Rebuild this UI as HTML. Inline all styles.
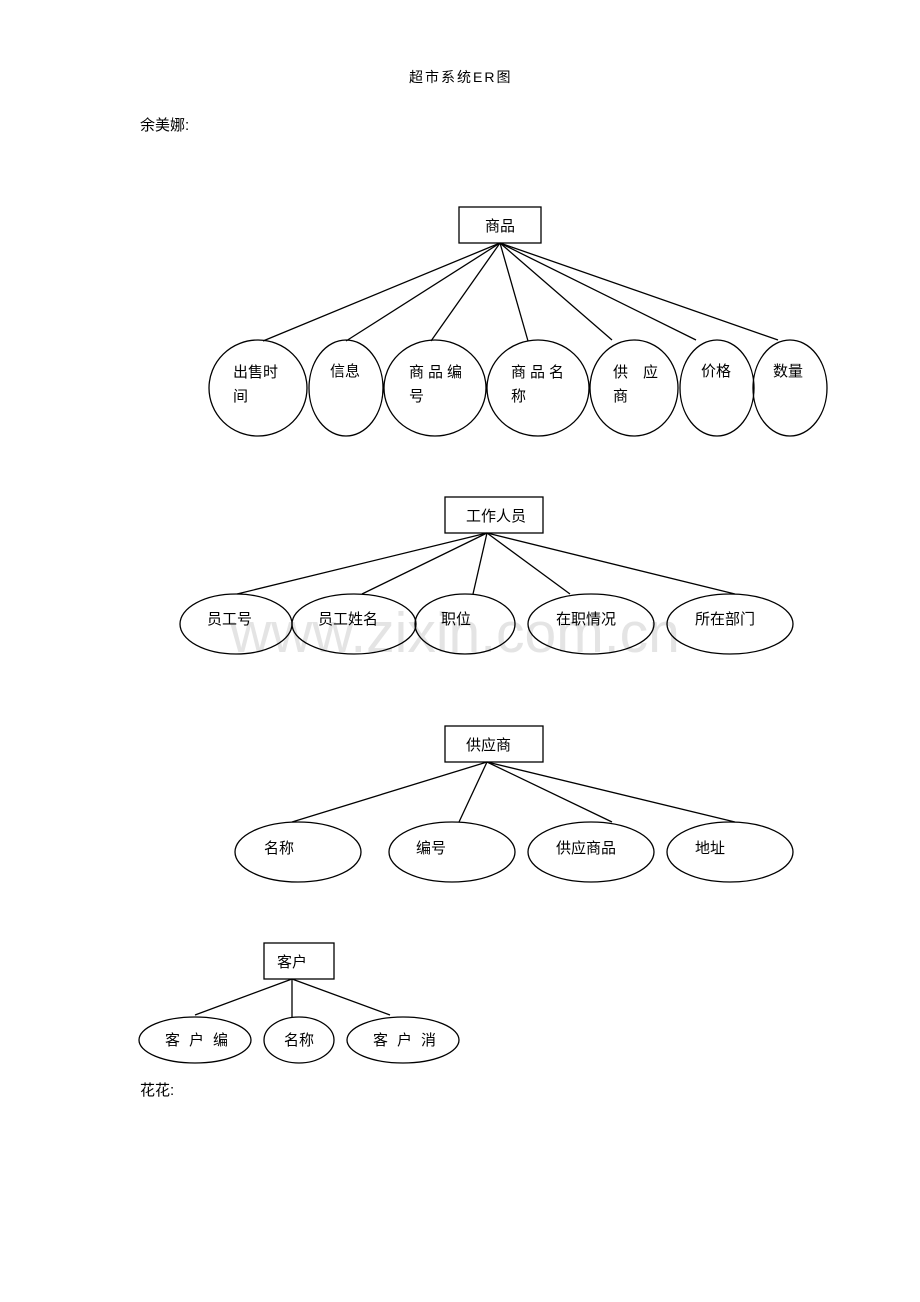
<!DOCTYPE html>
<html><head><meta charset="utf-8"><style>
html,body{margin:0;padding:0;background:#fff;}
svg{display:block;}
text{font-family:"Liberation Sans","Noto Sans CJK SC",sans-serif;font-size:15px;fill:#000;}
</style></head><body>
<svg width="920" height="1302" viewBox="0 0 920 1302" xmlns="http://www.w3.org/2000/svg">
<text x="230" y="652" style="font-size:57px;fill:#e4e4e4;font-family:'Liberation Sans',sans-serif;">www.zixin.com.cn</text>
<text x="409" y="82" style="font-size:14px;letter-spacing:2px">超市系统ER图</text>
<text x="140" y="130">余美娜:</text>
<g fill="none" stroke="#000" stroke-width="1.3">
<rect x="459" y="207" width="82" height="36"/>
<line x1="500" y1="243" x2="263" y2="341"/>
<line x1="500" y1="243" x2="346" y2="341"/>
<line x1="500" y1="243" x2="431" y2="341"/>
<line x1="500" y1="243" x2="528" y2="341"/>
<line x1="500" y1="243" x2="612" y2="340"/>
<line x1="500" y1="243" x2="696" y2="340"/>
<line x1="500" y1="243" x2="778" y2="340"/>
<ellipse cx="258" cy="388" rx="49" ry="48"/>
<ellipse cx="346" cy="388" rx="37" ry="48"/>
<ellipse cx="435" cy="388" rx="51" ry="48"/>
<ellipse cx="538" cy="388" rx="51" ry="48"/>
<ellipse cx="634" cy="388" rx="44" ry="48"/>
<ellipse cx="717" cy="388" rx="37" ry="48"/>
<ellipse cx="790" cy="388" rx="37" ry="48"/>

<rect x="445" y="497" width="98" height="36"/>
<line x1="487" y1="533" x2="237" y2="594"/>
<line x1="487" y1="533" x2="362" y2="594"/>
<line x1="487" y1="533" x2="473" y2="594"/>
<line x1="487" y1="533" x2="570" y2="594"/>
<line x1="487" y1="533" x2="735" y2="594"/>
<ellipse cx="236" cy="624" rx="56" ry="30"/>
<ellipse cx="354" cy="624" rx="62" ry="30"/>
<ellipse cx="465" cy="624" rx="50" ry="30"/>
<ellipse cx="591" cy="624" rx="63" ry="30"/>
<ellipse cx="730" cy="624" rx="63" ry="30"/>

<rect x="445" y="726" width="98" height="36"/>
<line x1="487" y1="762" x2="292" y2="822"/>
<line x1="487" y1="762" x2="459" y2="822"/>
<line x1="487" y1="762" x2="612" y2="822"/>
<line x1="487" y1="762" x2="735" y2="822"/>
<ellipse cx="298" cy="852" rx="63" ry="30"/>
<ellipse cx="452" cy="852" rx="63" ry="30"/>
<ellipse cx="591" cy="852" rx="63" ry="30"/>
<ellipse cx="730" cy="852" rx="63" ry="30"/>

<rect x="264" y="943" width="70" height="36"/>
<line x1="292" y1="979" x2="195" y2="1015"/>
<line x1="292" y1="979" x2="292" y2="1017"/>
<line x1="292" y1="979" x2="390" y2="1015"/>
<ellipse cx="195" cy="1040" rx="56" ry="23"/>
<ellipse cx="299" cy="1040" rx="35" ry="23"/>
<ellipse cx="403" cy="1040" rx="56" ry="23"/>
</g>
<text x="485" y="231">商品</text>
<text x="233" y="377">出售时</text><text x="233" y="401">间</text>
<text x="330" y="376">信息</text>
<text x="409" y="377" style="letter-spacing:4px">商品编</text><text x="409" y="401">号</text>
<text x="511" y="377" style="letter-spacing:4px">商品名</text><text x="511" y="401">称</text>
<text x="613" y="377" style="letter-spacing:15px">供应</text><text x="613" y="401">商</text>
<text x="701" y="376">价格</text>
<text x="773" y="376">数量</text>

<text x="466" y="521">工作人员</text>
<text x="207" y="624">员工号</text>
<text x="318" y="624">员工姓名</text>
<text x="441" y="624">职位</text>
<text x="556" y="624">在职情况</text>
<text x="695" y="624">所在部门</text>

<text x="466" y="750">供应商</text>
<text x="264" y="853">名称</text>
<text x="416" y="853">编号</text>
<text x="556" y="853">供应商品</text>
<text x="695" y="853">地址</text>

<text x="277" y="967">客户</text>
<text x="165" y="1045" style="letter-spacing:9px">客户编</text>
<text x="284" y="1045">名称</text>
<text x="373" y="1045" style="letter-spacing:9px">客户消</text>

<text x="140" y="1095">花花:</text>
</svg>
</body></html>
